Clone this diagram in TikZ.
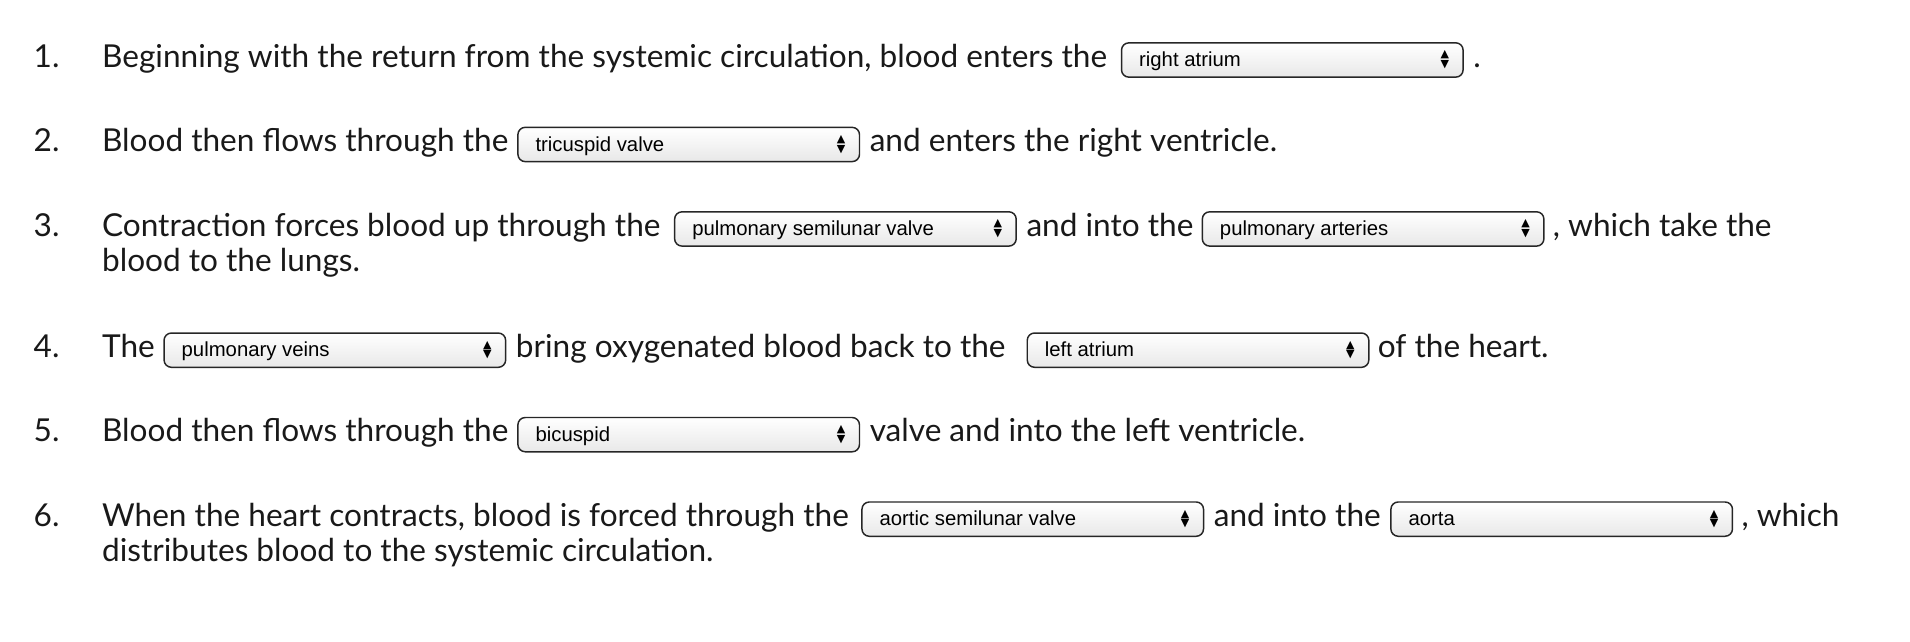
\documentclass[tikz,border=0pt]{standalone}
\usepackage{fontspec}
\setmainfont{Lato}
\newfontfamily\ddfont{Liberation Sans}
\newfontfamily\symfont{DejaVu Sans}
\begin{document}
\begin{tikzpicture}[x=0.5pt,y=-0.5pt,
  txt/.style={anchor=base west,inner sep=0pt,font=\fontsize{12.9}{14}\selectfont,text=black!90},
  num/.style={anchor=base east,inner sep=0pt,font=\fontsize{12.9}{14}\selectfont,text=black!90},
  ddbox/.style={draw=black!85,line width=0.6pt,rounded corners=3pt,top color=white,bottom color=black!9,minimum width=139.5pt,minimum height=14pt,inner sep=0pt},
  ddlab/.style={anchor=base west,inner sep=0pt,font=\ddfont\fontsize{8.3}{9}\selectfont},
  ddarr/.style={inner sep=0pt,font=\symfont\fontsize{4.5}{5}\selectfont}]
\useasboundingbox (3,0) rectangle (1563,524);
\newcommand\dd[4]{% name, left x, center y, label
  \node[ddbox] (#1) at (#2+139.5,#3) {};
  \node[ddlab] (#1l) at (#2+14,#3+5.5) {#4};
  \node[ddarr] (#1u) at (#2+264,#3-4) {▲};
  \node[ddarr] (#1d) at (#2+264,#3+4) {▼};
}
% line 1
\node[num] (n1) at (52,55) {1.};
\node[txt] (t1a) at (86,55) {Beginning with the return from the systemic circulation, blood enters the};
\dd{d1}{919}{49}{right atrium}
\node[txt] (t1b) at (1206,55) {.};
% line 2
\node[num] (n2) at (52,124) {2.};
\node[txt] (t2a) at (86,124) {Blood then flows through the};
\dd{d2}{426}{118}{tricuspid valve}
\node[txt] (t2b) at (713,124) {and enters the right ventricle.};
% line 3
\node[num] (n3) at (52,193) {3.};
\node[txt] (t3a) at (86,193) {Contraction forces blood up through the};
\dd{d3}{554}{187}{pulmonary semilunar valve}
\node[txt] (t3b) at (841,193) {and into the};
\dd{d4}{985}{187}{pulmonary arteries}
\node[txt] (t3c) at (1271,193) {, which take the};
\node[txt] (t3d) at (86,222) {blood to the lungs.};
% line 4
\node[num] (n4) at (52,292) {4.};
\node[txt] (t4a) at (86,292) {The};
\dd{d5}{137}{286}{pulmonary veins}
\node[txt] (t4b) at (424,292) {bring oxygenated blood back to the};
\dd{d6}{842}{286}{left atrium}
\node[txt] (t4c) at (1128,292) {of the heart.};
% line 5
\node[num] (n5) at (52,361) {5.};
\node[txt] (t5a) at (86,361) {Blood then flows through the};
\dd{d7}{426}{355}{bicuspid}
\node[txt] (t5b) at (713,361) {valve and into the left ventricle.};
% line 6
\node[num] (n6) at (52,430) {6.};
\node[txt] (t6a) at (86,430) {When the heart contracts, blood is forced through the};
\dd{d8}{707}{424}{aortic semilunar valve}
\node[txt] (t6b) at (994,430) {and into the};
\dd{d9}{1139}{424}{aorta}
\node[txt] (t6c) at (1425,430) {, which};
\node[txt] (t6d) at (86,459) {distributes blood to the systemic circulation.};
\end{tikzpicture}
\end{document}
